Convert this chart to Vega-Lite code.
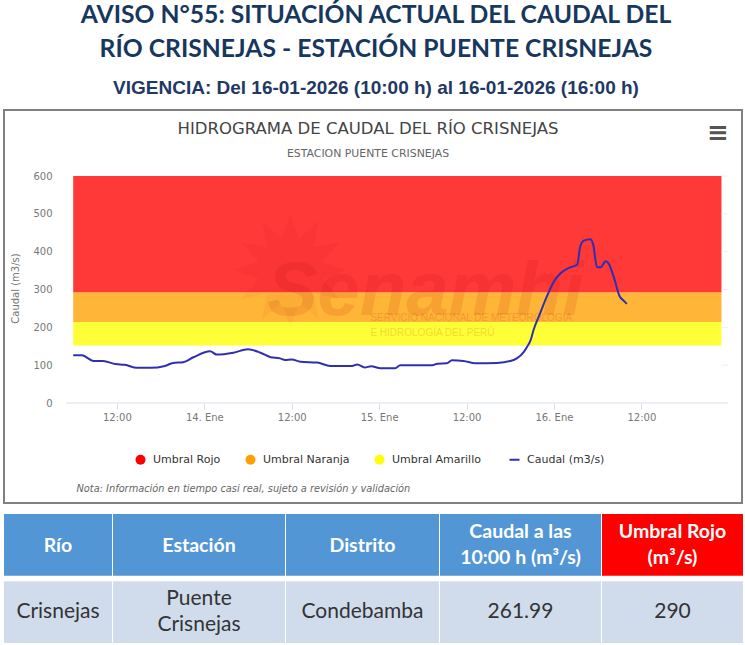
{
"$schema":"https://vega.github.io/schema/vega-lite/v6.json",
"padding":{"left":3,"right":3,"top":3,"bottom":0},
"background":"#ffffff",
"spacing":10,
"datasets":{
"bandas":[
{"serie":"Umbral Rojo","desde":292,"hasta":600},
{"serie":"Umbral Naranja","desde":214,"hasta":292},
{"serie":"Umbral Amarillo","desde":152,"hasta":214}],
"caudal":[
{"t":"2026-01-13T06:00:00Z","q":126},{"t":"2026-01-13T07:12:00Z","q":126},{"t":"2026-01-13T08:48:00Z","q":111},{"t":"2026-01-13T10:06:00Z","q":111},{"t":"2026-01-13T11:48:00Z","q":103},{"t":"2026-01-13T13:06:00Z","q":101},{"t":"2026-01-13T14:45:00Z","q":93},{"t":"2026-01-13T16:36:00Z","q":93},{"t":"2026-01-13T18:36:00Z","q":98},{"t":"2026-01-13T19:42:00Z","q":106},{"t":"2026-01-13T21:06:00Z","q":108},{"t":"2026-01-13T22:30:00Z","q":121},
{"t":"2026-01-14T00:48:00Z","q":137},{"t":"2026-01-14T01:42:00Z","q":128},{"t":"2026-01-14T04:00:00Z","q":133},{"t":"2026-01-14T06:00:00Z","q":142},{"t":"2026-01-14T07:42:00Z","q":133},{"t":"2026-01-14T09:06:00Z","q":121},{"t":"2026-01-14T10:24:00Z","q":118},{"t":"2026-01-14T11:06:00Z","q":114},{"t":"2026-01-14T12:00:00Z","q":115},{"t":"2026-01-14T13:12:00Z","q":109},{"t":"2026-01-14T15:30:00Z","q":107},{"t":"2026-01-14T17:18:00Z","q":98},{"t":"2026-01-14T20:18:00Z","q":98},{"t":"2026-01-14T21:00:00Z","q":102},{"t":"2026-01-14T22:00:00Z","q":94},{"t":"2026-01-14T22:54:00Z","q":97},
{"t":"2026-01-15T00:12:00Z","q":92},{"t":"2026-01-15T02:12:00Z","q":92},{"t":"2026-01-15T02:54:00Z","q":100},{"t":"2026-01-15T07:18:00Z","q":100},{"t":"2026-01-15T08:00:00Z","q":104},{"t":"2026-01-15T09:18:00Z","q":105},{"t":"2026-01-15T10:00:00Z","q":113},{"t":"2026-01-15T11:36:00Z","q":111},{"t":"2026-01-15T13:12:00Z","q":105},{"t":"2026-01-15T16:12:00Z","q":106},{"t":"2026-01-15T18:00:00Z","q":111},{"t":"2026-01-15T18:54:00Z","q":118},{"t":"2026-01-15T19:54:00Z","q":136},{"t":"2026-01-15T20:18:00Z","q":148},{"t":"2026-01-15T20:48:00Z","q":166},{"t":"2026-01-15T21:12:00Z","q":193},{"t":"2026-01-15T22:06:00Z","q":237},{"t":"2026-01-15T23:06:00Z","q":285},
{"t":"2026-01-16T00:00:00Z","q":321},{"t":"2026-01-16T00:54:00Z","q":343},{"t":"2026-01-16T02:18:00Z","q":359},{"t":"2026-01-16T03:12:00Z","q":366},{"t":"2026-01-16T03:36:00Z","q":413},{"t":"2026-01-16T04:06:00Z","q":429},{"t":"2026-01-16T05:00:00Z","q":433},{"t":"2026-01-16T05:24:00Z","q":418},{"t":"2026-01-16T05:54:00Z","q":359},{"t":"2026-01-16T06:24:00Z","q":359},{"t":"2026-01-16T07:06:00Z","q":375},{"t":"2026-01-16T07:30:00Z","q":369},{"t":"2026-01-16T08:12:00Z","q":334},{"t":"2026-01-16T09:00:00Z","q":283},{"t":"2026-01-16T09:36:00Z","q":270},{"t":"2026-01-16T10:00:00Z","q":261.99}],
"tabla":[
{"col":"Río","fila":"E","texto":"Río"},{"col":"Río","fila":"C","texto":"Crisnejas"},
{"col":"Estación","fila":"E","texto":"Estación"},{"col":"Estación","fila":"C","texto":"Puente\nCrisnejas"},
{"col":"Distrito","fila":"E","texto":"Distrito"},{"col":"Distrito","fila":"C","texto":"Condebamba"},
{"col":"Caudal","fila":"E","texto":"Caudal a las\n10:00 h (m³/s)"},{"col":"Caudal","fila":"C","texto":"261.99"},
{"col":"Umbral","fila":"E","texto":"Umbral Rojo\n(m³/s)"},{"col":"Umbral","fila":"C","texto":"290"}]
},
"vconcat":[
{"width":738,"height":1,"view":{"stroke":null},
"title":{"text":["AVISO N°55: SITUACIÓN ACTUAL DEL CAUDAL DEL","RÍO CRISNEJAS - ESTACIÓN PUENTE CRISNEJAS"],"subtitle":"VIGENCIA: Del 16-01-2026 (10:00 h) al 16-01-2026 (16:00 h)","font":"Lato","fontWeight":"bold","fontSize":24.7,"lineHeight":34,"color":"#17375e","subtitleFont":"Liberation Sans","subtitleFontWeight":"bold","subtitleFontSize":19,"subtitleColor":"#1f3864","subtitlePadding":17,"anchor":"middle","frame":"group","dx":3,"offset":-5},
"data":{"values":[{}]},"mark":{"type":"point","opacity":0},"encoding":{}},
{"width":738,"height":393,
"view":{"stroke":"#808080","strokeWidth":2,"fill":"#ffffff"},
"title":{"text":"HIDROGRAMA DE CAUDAL DEL RÍO CRISNEJAS","subtitle":"ESTACION PUENTE CRISNEJAS","font":"DejaVu Sans","fontSize":16.5,"fontWeight":"normal","color":"#444444","subtitleFont":"DejaVu Sans","subtitleFontSize":10.9,"subtitleColor":"#666666","subtitlePadding":11,"anchor":"middle","frame":"group","dx":-5,"offset":-49},
"layer":[
{"data":{"name":"bandas"},"mark":{"type":"rect","opacity":0.78},
"encoding":{
"x":{"datum":{"year":2026,"month":1,"date":13,"hours":6,"utc":true},"type":"temporal",
"scale":{"type":"utc","domain":[{"year":2026,"month":1,"date":12,"hours":20,"minutes":30,"utc":true},{"year":2026,"month":1,"date":17,"hours":1,"minutes":49,"utc":true}]},
"axis":{"orient":"bottom","offset":-100,"domain":false,"grid":false,"tickColor":"#d8dfe8","tickSize":6,"labelPadding":3,"labelFont":"DejaVu Sans","labelFontSize":10,"labelColor":"#777777","labelOverlap":false,"labelFlush":false,
"values":[{"year":2026,"month":1,"date":13,"hours":12,"utc":true},{"year":2026,"month":1,"date":14,"hours":0,"utc":true},{"year":2026,"month":1,"date":14,"hours":12,"utc":true},{"year":2026,"month":1,"date":15,"hours":0,"utc":true},{"year":2026,"month":1,"date":15,"hours":12,"utc":true},{"year":2026,"month":1,"date":16,"hours":0,"utc":true},{"year":2026,"month":1,"date":16,"hours":12,"utc":true}],
"labelExpr":"utcFormat(datum.value,'%H')=='12' ? '12:00' : utcFormat(datum.value,'%-d')+'. Ene'",
"title":"Nota: Información en tiempo casi real, sujeto a revisión y validación","titleFont":"DejaVu Sans","titleFontStyle":"italic","titleFontWeight":"normal","titleFontSize":9.8,"titleColor":"#666666","titleAnchor":"start","titleAlign":"left","titleX":72,"titleY":80}},
"x2":{"datum":{"year":2026,"month":1,"date":16,"hours":23,"utc":true}},
"y":{"field":"desde","type":"quantitative","scale":{"domain":[-264.3,774.5],"nice":false,"zero":false},
"axis":{"offset":-48,"domain":false,"ticks":false,"grid":false,"values":[0,100,200,300,400,500,600],"labelPadding":0,"labelFont":"DejaVu Sans","labelFontSize":10,"labelColor":"#777777","title":"Caudal (m3/s)","titleFont":"DejaVu Sans","titleFontSize":10,"titleFontWeight":"normal","titleColor":"#777777","titleX":-32,"titleY":178}},
"y2":{"field":"hasta"},
"color":{"field":"serie","type":"nominal","scale":{"domain":["Umbral Rojo","Umbral Naranja","Umbral Amarillo","Caudal (m3/s)"],"range":["#ff0000","#ffa000","#ffff00","#2f2fb0"]},
"legend":{"orient":"none","legendX":131,"legendY":359,"direction":"horizontal","columns":4,"columnPadding":24,"title":null,"symbolType":"circle","symbolSize":100,"symbolOpacity":1,"labelFont":"DejaVu Sans","labelFontSize":11,"labelOffset":7,"labelColor":"#333333","symbolStrokeWidth":0,
"encode":{"symbols":{"update":{"shape":{"signal":"datum.value=='Caudal (m3/s)'?'stroke':'circle'"},"strokeWidth":{"signal":"datum.value=='Caudal (m3/s)'?2:0"},"stroke":{"signal":"datum.value=='Caudal (m3/s)'?'#2f2fb0':'transparent'"}}}}}}}},
{"data":{"values":[{}]},"mark":{"type":"text","text":"✹","font":"DejaVu Sans","fontSize":150,"color":"#aa0000","opacity":0.035,"align":"center","baseline":"middle"},
"encoding":{"x":{"datum":{"year":2026,"month":1,"date":14,"hours":11,"minutes":48,"utc":true},"type":"temporal"},"y":{"datum":325}}},
{"data":{"values":[{}]},"mark":{"type":"text","text":"Senamhi","font":"Liberation Sans","fontWeight":"bold","fontStyle":"italic","fontSize":76,"color":"#aa0000","opacity":0.1,"align":"center","baseline":"alphabetic"},
"encoding":{"x":{"datum":{"year":2026,"month":1,"date":15,"hours":6,"minutes":20,"utc":true},"type":"temporal"},"y":{"datum":232}}},
{"data":{"values":[{}]},"mark":{"type":"text","text":"SERVICIO NACIONAL DE METEOROLOGÍA","font":"Liberation Sans","fontSize":10,"color":"#aa0000","opacity":0.15,"align":"left","baseline":"middle"},
"encoding":{"x":{"datum":{"year":2026,"month":1,"date":14,"hours":22,"minutes":48,"utc":true},"type":"temporal"},"y":{"datum":225}}},
{"data":{"values":[{}]},"mark":{"type":"text","text":"E HIDROLOGÍA DEL PERÚ","font":"Liberation Sans","fontSize":10,"color":"#aa0000","opacity":0.15,"align":"left","baseline":"middle"},
"encoding":{"x":{"datum":{"year":2026,"month":1,"date":14,"hours":22,"minutes":48,"utc":true},"type":"temporal"},"y":{"datum":186}}},
{"data":{"values":[{"v":100},{"v":200},{"v":300},{"v":400},{"v":500},{"v":600}]},"mark":{"type":"rule","color":"#eef0f4","strokeWidth":1},
"encoding":{"x":{"datum":{"year":2026,"month":1,"date":16,"hours":23,"utc":true},"type":"temporal"},"x2":{"datum":{"year":2026,"month":1,"date":16,"hours":23,"minutes":54,"utc":true}},"y":{"field":"v","type":"quantitative"}}},
{"data":{"values":[{"v":0}]},"mark":{"type":"rule","color":"#d8dfe8","strokeWidth":1},
"encoding":{"x":{"datum":{"year":2026,"month":1,"date":13,"hours":5,"utc":true},"type":"temporal"},"x2":{"datum":{"year":2026,"month":1,"date":16,"hours":23,"minutes":54,"utc":true}},"y":{"field":"v","type":"quantitative"}}},
{"data":{"name":"caudal"},"transform":[{"calculate":"'Caudal (m3/s)'","as":"serie"}],"mark":{"type":"line","strokeWidth":2,"interpolate":"monotone"},
"encoding":{"x":{"field":"t","type":"temporal"},"y":{"field":"q","type":"quantitative"},"color":{"field":"serie","type":"nominal"}}},
{"data":{"values":[{}]},"mark":{"type":"text","text":"≡","font":"DejaVu Sans","fontWeight":"bold","fontSize":26,"color":"#555555","align":"center","baseline":"middle"},
"encoding":{"x":{"datum":{"year":2026,"month":1,"date":16,"hours":22,"minutes":30,"utc":true},"type":"temporal"},"y":{"datum":713}}}
]},
{"spacing":1,"hconcat":[
{"width":108,"height":129,"view":{"stroke":null},"data":{"name":"tabla"},"transform":[{"filter":"datum.col=='Río'"}],
"encoding":{"y":{"field":"fila","type":"nominal","scale":{"domain":["E","C"],"paddingInner":0.08,"paddingOuter":0},"axis":null}},
"layer":[{"mark":"rect","encoding":{"fill":{"condition":{"test":"datum.fila=='E'","value":"#5296d5"},"value":"#d0dcec"}}},
{"transform":[{"filter":"datum.fila=='E'"}],"mark":{"type":"text","font":"Lato","fontWeight":"bold","fontSize":19.5,"lineBreak":"\n","lineHeight":26,"baseline":"middle","color":"#ffffff","dy":{"expr":"indexof(datum.texto,'\\n')>=0?-13:1"}},"encoding":{"text":{"field":"texto"}}},
{"transform":[{"filter":"datum.fila=='C'"}],"mark":{"type":"text","font":"Lato","fontSize":21,"lineBreak":"\n","lineHeight":26,"baseline":"middle","color":"#333333","dy":{"expr":"indexof(datum.texto,'\\n')>=0?-13:0"}},"encoding":{"text":{"field":"texto"}}}]},
{"width":172,"height":129,"view":{"stroke":null},"data":{"name":"tabla"},"transform":[{"filter":"datum.col=='Estación'"}],
"encoding":{"y":{"field":"fila","type":"nominal","scale":{"domain":["E","C"],"paddingInner":0.08,"paddingOuter":0},"axis":null}},
"layer":[{"mark":"rect","encoding":{"fill":{"condition":{"test":"datum.fila=='E'","value":"#5296d5"},"value":"#d0dcec"}}},
{"transform":[{"filter":"datum.fila=='E'"}],"mark":{"type":"text","font":"Lato","fontWeight":"bold","fontSize":19.5,"lineBreak":"\n","lineHeight":26,"baseline":"middle","color":"#ffffff","dy":{"expr":"indexof(datum.texto,'\\n')>=0?-13:1"}},"encoding":{"text":{"field":"texto"}}},
{"transform":[{"filter":"datum.fila=='C'"}],"mark":{"type":"text","font":"Lato","fontSize":21,"lineBreak":"\n","lineHeight":26,"baseline":"middle","color":"#333333","dy":{"expr":"indexof(datum.texto,'\\n')>=0?-13:0"}},"encoding":{"text":{"field":"texto"}}}]},
{"width":153,"height":129,"view":{"stroke":null},"data":{"name":"tabla"},"transform":[{"filter":"datum.col=='Distrito'"}],
"encoding":{"y":{"field":"fila","type":"nominal","scale":{"domain":["E","C"],"paddingInner":0.08,"paddingOuter":0},"axis":null}},
"layer":[{"mark":"rect","encoding":{"fill":{"condition":{"test":"datum.fila=='E'","value":"#5296d5"},"value":"#d0dcec"}}},
{"transform":[{"filter":"datum.fila=='E'"}],"mark":{"type":"text","font":"Lato","fontWeight":"bold","fontSize":19.5,"lineBreak":"\n","lineHeight":26,"baseline":"middle","color":"#ffffff","dy":{"expr":"indexof(datum.texto,'\\n')>=0?-13:1"}},"encoding":{"text":{"field":"texto"}}},
{"transform":[{"filter":"datum.fila=='C'"}],"mark":{"type":"text","font":"Lato","fontSize":21,"lineBreak":"\n","lineHeight":26,"baseline":"middle","color":"#333333","dy":{"expr":"indexof(datum.texto,'\\n')>=0?-13:0"}},"encoding":{"text":{"field":"texto"}}}]},
{"width":161,"height":129,"view":{"stroke":null},"data":{"name":"tabla"},"transform":[{"filter":"datum.col=='Caudal'"}],
"encoding":{"y":{"field":"fila","type":"nominal","scale":{"domain":["E","C"],"paddingInner":0.08,"paddingOuter":0},"axis":null}},
"layer":[{"mark":"rect","encoding":{"fill":{"condition":{"test":"datum.fila=='E'","value":"#5296d5"},"value":"#d0dcec"}}},
{"transform":[{"filter":"datum.fila=='E'"}],"mark":{"type":"text","font":"Lato","fontWeight":"bold","fontSize":19.5,"lineBreak":"\n","lineHeight":26,"baseline":"middle","color":"#ffffff","dy":{"expr":"indexof(datum.texto,'\\n')>=0?-13:1"}},"encoding":{"text":{"field":"texto"}}},
{"transform":[{"filter":"datum.fila=='C'"}],"mark":{"type":"text","font":"Lato","fontSize":21,"lineBreak":"\n","lineHeight":26,"baseline":"middle","color":"#333333","dy":{"expr":"indexof(datum.texto,'\\n')>=0?-13:0"}},"encoding":{"text":{"field":"texto"}}}]},
{"width":141,"height":129,"view":{"stroke":null},"data":{"name":"tabla"},"transform":[{"filter":"datum.col=='Umbral'"}],
"encoding":{"y":{"field":"fila","type":"nominal","scale":{"domain":["E","C"],"paddingInner":0.08,"paddingOuter":0},"axis":null}},
"layer":[{"mark":"rect","encoding":{"fill":{"condition":{"test":"datum.fila=='E'","value":"#ff0000"},"value":"#d0dcec"}}},
{"transform":[{"filter":"datum.fila=='E'"}],"mark":{"type":"text","font":"Lato","fontWeight":"bold","fontSize":19.5,"lineBreak":"\n","lineHeight":26,"baseline":"middle","color":"#ffffff","dy":{"expr":"indexof(datum.texto,'\\n')>=0?-13:1"}},"encoding":{"text":{"field":"texto"}}},
{"transform":[{"filter":"datum.fila=='C'"}],"mark":{"type":"text","font":"Lato","fontSize":21,"lineBreak":"\n","lineHeight":26,"baseline":"middle","color":"#333333","dy":{"expr":"indexof(datum.texto,'\\n')>=0?-13:0"}},"encoding":{"text":{"field":"texto"}}}]}
]}
]}
